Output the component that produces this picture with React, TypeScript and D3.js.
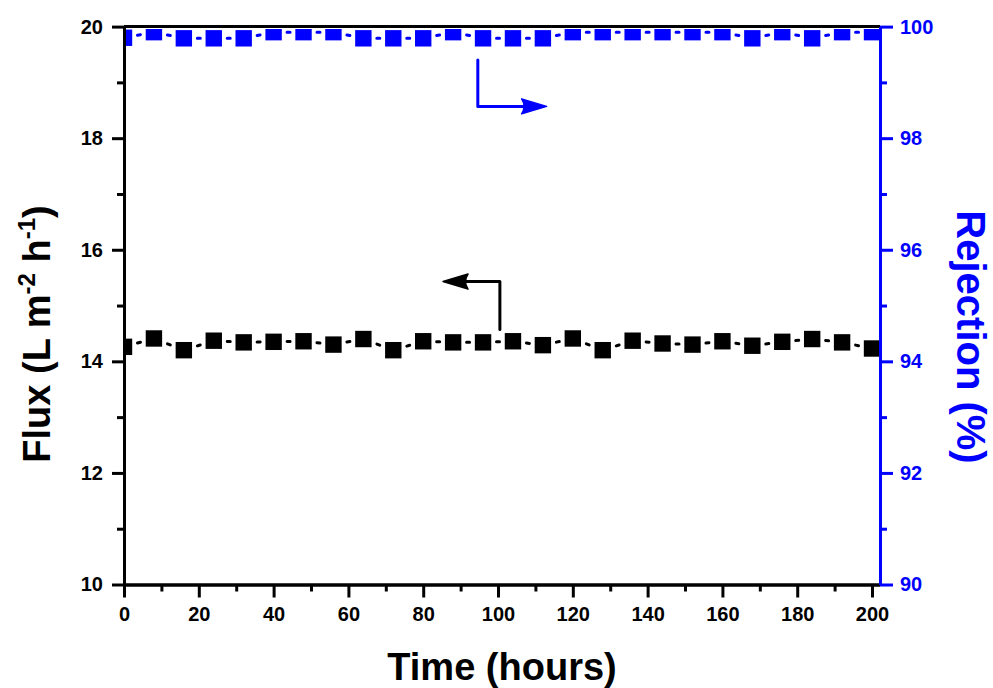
import { useEffect, useRef } from "react";
import * as d3 from "d3";

const WIDTH = 993;
const HEIGHT = 688;
const FONT = "'Liberation Sans', Arial, sans-serif";
const BLUE = "#0000ff";

// hours
const TIME = [0, 8, 16, 24, 32, 40, 48, 56, 64, 72, 80, 88, 96, 104, 112, 120, 128, 136, 144, 152, 160, 168, 176, 184, 192, 200];
// L m-2 h-1
const FLUX = [14.26, 14.41, 14.2, 14.37, 14.34, 14.35, 14.36, 14.3, 14.4, 14.2, 14.36, 14.34, 14.34, 14.36, 14.29, 14.41, 14.2, 14.37, 14.32, 14.3, 14.36, 14.28, 14.35, 14.4, 14.34, 14.23];
// %
const REJECTION = [99.8, 99.9, 99.79, 99.79, 99.79, 99.9, 99.9, 99.9, 99.79, 99.79, 99.79, 99.9, 99.79, 99.79, 99.79, 99.9, 99.9, 99.9, 99.9, 99.9, 99.9, 99.79, 99.9, 99.79, 99.9, 99.9];

const X_TICKS = [0, 20, 40, 60, 80, 100, 120, 140, 160, 180, 200];
const X_MINOR = [10, 30, 50, 70, 90, 110, 130, 150, 170, 190];
const FLUX_TICKS = [10, 12, 14, 16, 18, 20];
const FLUX_MINOR = [11, 13, 15, 17, 19];
const REJ_TICKS = [90, 92, 94, 96, 98, 100];
const REJ_MINOR = [91, 93, 95, 97, 99];

// arrow annotations: [time, value] polyline, last point is the tip
const FLUX_ARROW = [[100.5, 14.57], [100.5, 15.43], [85.3, 15.43]];
const REJ_ARROW = [[94.6, 99.4], [94.6, 98.57], [113, 98.57]];

export default function App() {
  const svgRef = useRef<SVGSVGElement | null>(null);

  useEffect(() => {
    const svg = d3.select(svgRef.current);
    svg.selectAll("*").remove();

    const left = 124;
    const right = 880;
    const top = 26.6;
    const bottom = 584.5;

    const x = d3.scaleLinear().domain([0, 202]).range([left, right - 0.5]);
    const y = d3.scaleLinear().domain([10, 20]).range([bottom, top]);
    const yR = d3.scaleLinear().domain([90, 100]).range([bottom, top]);

    svg.append("rect").attr("width", WIDTH).attr("height", HEIGHT).attr("fill", "#ffffff");

    svg
      .append("clipPath")
      .attr("id", "plot-clip")
      .append("rect")
      .attr("x", left)
      .attr("y", top + 2.5)
      .attr("width", right - left)
      .attr("height", bottom - top - 2.5);

    const plot = svg.append("g").attr("clip-path", "url(#plot-clip)");

    const drawSeries = (values: number[], scaleY: d3.ScaleLinear<number, number>, color: string) => {
      const pts = TIME.map((t, i) => [x(t), scaleY(values[i])]);
      pts.slice(1).forEach((p, i) => {
        const p0 = pts[i];
        const len = Math.hypot(p[0] - p0[0], p[1] - p0[1]);
        plot
          .append("line")
          .attr("x1", p0[0])
          .attr("y1", p0[1])
          .attr("x2", p[0])
          .attr("y2", p[1])
          .attr("stroke", color)
          .attr("stroke-width", 3)
          .attr("stroke-linecap", "round")
          .attr("stroke-dasharray", `0 ${len / 2 - 1.5} 3 ${len}`);
      });
      pts.forEach((p) => {
        plot
          .append("rect")
          .attr("x", p[0] - 8.2)
          .attr("y", p[1] - 8.2)
          .attr("width", 16.4)
          .attr("height", 16.4)
          .attr("fill", color);
      });
    };

    drawSeries(FLUX, y, "#000000");
    drawSeries(REJECTION, yR, BLUE);

    const drawArrow = (pts: number[][], scaleY: d3.ScaleLinear<number, number>, color: string) => {
      const p = pts.map((d) => [x(d[0]), scaleY(d[1])]);
      const tip = p[p.length - 1];
      const prev = p[p.length - 2];
      const dir = Math.sign(tip[0] - prev[0]);
      const headLen = 25;
      const body = p.slice(0, -1).concat([[tip[0] - dir * headLen * 0.8, tip[1]]]);
      svg
        .append("path")
        .attr("d", d3.line()(body as [number, number][]))
        .attr("fill", "none")
        .attr("stroke", color)
        .attr("stroke-width", 3)
        .attr("stroke-linecap", "round")
        .attr("stroke-linejoin", "round");
      svg
        .append("path")
        .attr(
          "d",
          `M${tip[0]},${tip[1]} L${tip[0] - dir * headLen},${tip[1] - 7.5} Q${tip[0] - dir * headLen * 0.8},${tip[1]} ${tip[0] - dir * headLen},${tip[1] + 7.5} Z`
        )
        .attr("fill", color)
        .attr("stroke", color)
        .attr("stroke-width", 1.5)
        .attr("stroke-linejoin", "round");
    };

    drawArrow(FLUX_ARROW, y, "#000000");
    drawArrow(REJ_ARROW, yR, BLUE);

    const styleAxis = (g: d3.Selection<SVGGElement, unknown, null, undefined>, color: string) => {
      g.select(".domain").attr("stroke", color).attr("stroke-width", 3);
      g.selectAll("line").attr("stroke", color).attr("stroke-width", 3);
      g.selectAll("text")
        .attr("fill", color)
        .attr("font-family", FONT)
        .attr("font-weight", 700)
        .attr("font-size", 20);
    };

    // top frame
    svg
      .append("line")
      .attr("x1", left)
      .attr("x2", right)
      .attr("y1", top)
      .attr("y2", top)
      .attr("stroke", "#000000")
      .attr("stroke-width", 3);

    svg
      .append("g")
      .attr("transform", `translate(0, ${bottom})`)
      .call(d3.axisBottom(x).tickValues(X_MINOR).tickSize(7).tickSizeOuter(0).tickFormat(() => ""))
      .call((g) => styleAxis(g, "#000000"));
    svg
      .append("g")
      .attr("transform", `translate(0, ${bottom})`)
      .call(d3.axisBottom(x).tickValues(X_TICKS).tickSize(13).tickSizeOuter(0).tickPadding(9))
      .call((g) => styleAxis(g, "#000000"));

    svg
      .append("g")
      .attr("transform", `translate(${left}, 0)`)
      .call(d3.axisLeft(y).tickValues(FLUX_MINOR).tickSize(7).tickSizeOuter(0).tickFormat(() => ""))
      .call((g) => styleAxis(g, "#000000"));
    svg
      .append("g")
      .attr("transform", `translate(${left}, 0)`)
      .call(d3.axisLeft(y).tickValues(FLUX_TICKS).tickSize(12).tickSizeOuter(0).tickPadding(9))
      .call((g) => styleAxis(g, "#000000"));

    svg
      .append("g")
      .attr("transform", `translate(${right}, 0)`)
      .call(d3.axisRight(yR).tickValues(REJ_MINOR).tickSize(7).tickSizeOuter(0).tickFormat(() => ""))
      .call((g) => styleAxis(g, BLUE));
    svg
      .append("g")
      .attr("transform", `translate(${right}, 0)`)
      .call(d3.axisRight(yR).tickValues(REJ_TICKS).tickSize(13).tickSizeOuter(0).tickPadding(7))
      .call((g) => styleAxis(g, BLUE));

    svg
      .append("text")
      .attr("x", (left + right) / 2)
      .attr("y", 680)
      .attr("text-anchor", "middle")
      .attr("font-family", FONT)
      .attr("font-weight", 700)
      .attr("font-size", 38)
      .attr("fill", "#000000")
      .text("Time (hours)");

    const flux = svg
      .append("text")
      .attr("transform", `translate(50, 334) rotate(-90)`)
      .attr("text-anchor", "middle")
      .attr("font-family", FONT)
      .attr("font-weight", 700)
      .attr("font-size", 38)
      .attr("fill", "#000000");
    flux.append("tspan").text("Flux (L m");
    flux.append("tspan").attr("font-size", 24).attr("dy", -15).text("-2");
    flux.append("tspan").attr("dy", 15).text(" h");
    flux.append("tspan").attr("font-size", 24).attr("dy", -15).text("-1");
    flux.append("tspan").attr("dy", 15).text(")");

    svg
      .append("text")
      .attr("transform", `translate(957, 337) rotate(90)`)
      .attr("text-anchor", "middle")
      .attr("font-family", FONT)
      .attr("font-weight", 700)
      .attr("font-size", 40)
      .attr("fill", BLUE)
      .text("Rejection (%)");
  }, []);

  return (
    <svg
      ref={svgRef}
      width={WIDTH}
      height={HEIGHT}
      style={{ position: "absolute", left: 0, top: 0, display: "block" }}
      role="img"
      aria-label="Flux and rejection over time"
    />
  );
}
